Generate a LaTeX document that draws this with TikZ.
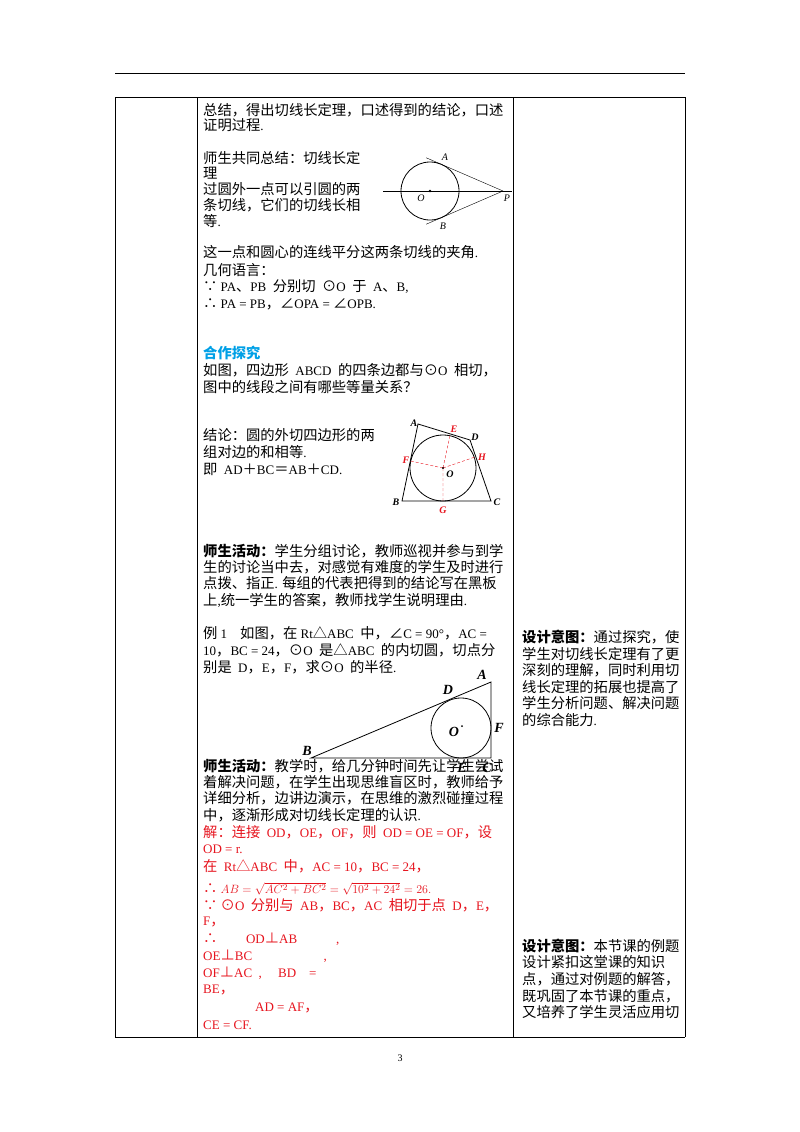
\documentclass[tikz,border=0pt]{standalone}
\usetikzlibrary{calc}
\usepackage{fontspec}
\setmainfont{Liberation Serif}
\newfontfamily\cjkf[Scale=1.1]{Noto Sans CJK SC}
\newfontfamily\latf{Liberation Serif}
\XeTeXinterchartokenstate=1
\newXeTeXintercharclass\cjkclass
\count255="4E00 \loop\XeTeXcharclass\count255=\cjkclass\advance\count255 1 \ifnum\count255<"A000 \repeat
\count255="3000 \loop\XeTeXcharclass\count255=\cjkclass\advance\count255 1 \ifnum\count255<"3040 \repeat
\count255="FF00 \loop\XeTeXcharclass\count255=\cjkclass\advance\count255 1 \ifnum\count255<"FFF0 \repeat
\count255="2200 \loop\XeTeXcharclass\count255=\cjkclass\advance\count255 1 \ifnum\count255<"2300 \repeat
\count255="25A0 \loop\XeTeXcharclass\count255=\cjkclass\advance\count255 1 \ifnum\count255<"2600 \repeat
\XeTeXinterchartoks 0 \cjkclass={\cjkf}
\XeTeXinterchartoks 4095 \cjkclass={\cjkf}
\XeTeXinterchartoks \cjkclass 0={\latf}
\XeTeXinterchartoks 4095 0={\latf}
\definecolor{myred}{RGB}{230,20,30}
\definecolor{mycyan}{RGB}{0,160,230}
\tikzset{ln/.style={anchor=west,inner sep=0pt,font=\fontsize{13}{15}\selectfont},
 rd/.style={ln,text=myred},
 lab/.style={inner sep=0pt,font=\fontsize{10}{12}\selectfont\itshape},
 qlab/.style={inner sep=0pt,font=\fontsize{10}{12}\selectfont\bfseries\itshape},
 blab/.style={inner sep=0pt,font=\fontsize{14}{16}\selectfont\bfseries\itshape}}
\begin{document}
\begin{tikzpicture}[x=1pt,y=-1pt]
\useasboundingbox (0,0) rectangle (800,1132);
% frame
\draw[line width=0.8pt] (115,73) -- (685,73);
\draw[line width=0.6pt] (115,97) -- (685,97) (115,1037) -- (685,1037)
 (115,97) -- (115,1037) (197,97) -- (197,1037) (513,97) -- (513,1037) (685,97) -- (685,1037);
\node[inner sep=0pt,font=\fontsize{10}{12}\selectfont] (pg) at (400,1058) {3};
% left column text
\node[ln] (t1) at (203,110) {总结，得出切线长定理，口述得到的结论，口述};
\node[ln] (t2) at (203,125) {证明过程.};
\node[ln] (t3) at (203,158) {师生共同总结：切线长定};
\node[ln] (t4) at (203,173) {理};
\node[ln] (t5) at (203,189) {过圆外一点可以引圆的两};
\node[ln] (t6) at (203,205) {条切线，它们的切线长相};
\node[ln] (t7) at (203,221) {等.};
\node[ln] (t8) at (203,252) {这一点和圆心的连线平分这两条切线的夹角.};
\node[ln] (t9) at (203,270) {几何语言：};
\node[ln] (t10) at (203,287) {∵ PA、PB\ \ 分别切\ \ ⊙O\ \ 于\ \ A、B,};
\node[ln] (t11) at (203,304) {∴ PA = PB，∠OPA = ∠OPB.};
\node[ln,text=mycyan,font=\fontsize{13}{15}\selectfont\bfseries] (t12) at (203,353) {合作探究};
\node[ln] (t13) at (203,370) {如图，四边形\ \ ABCD\ \ 的四条边都与⊙O\ \ 相切，};
\node[ln] (t14) at (203,387) {图中的线段之间有哪些等量关系？};
\node[ln] (t15) at (203,435) {结论：圆的外切四边形的两};
\node[ln] (t16) at (203,452) {组对边的和相等.};
\node[ln] (t17) at (203,469) {即\ \ AD＋BC＝AB＋CD.};
\node[ln] (t18) at (203,551) {\textbf{师生活动：}学生分组讨论，教师巡视并参与到学};
\node[ln] (t19) at (203,567) {生的讨论当中去，对感觉有难度的学生及时进行};
\node[ln] (t20) at (203,583) {点拨、指正. 每组的代表把得到的结论写在黑板};
\node[ln] (t21) at (203,600) {上,统一学生的答案，教师找学生说明理由.};
\node[ln] (t22) at (203,633) {例 1\quad 如图，在 Rt△ABC\ \ 中，∠C = 90°，AC =};
\node[ln] (t23) at (203,650) {10，BC = 24，⊙O\ \ 是△ABC\ \ 的内切圆，切点分};
\node[ln] (t24) at (203,667) {别是\ \ D，E，F，求⊙O\ \ 的半径.};
\node[ln] (t25) at (203,766) {\textbf{师生活动：}教学时，给几分钟时间先让学生尝试};
\node[ln] (t26) at (203,782) {着解决问题，在学生出现思维盲区时，教师给予};
\node[ln] (t27) at (203,798) {详细分析，边讲边演示，在思维的激烈碰撞过程};
\node[ln] (t28) at (203,815) {中，逐渐形成对切线长定理的认识.};
\node[rd] (r1) at (203,832) {解：连接\ \ OD，OE，OF，则\ \ OD = OE = OF，设};
\node[rd] (r2) at (203,849) {OD = r.};
\node[rd] (r3) at (203,866) {在\ \ Rt△ABC\ \ 中，AC = 10，BC = 24，};
\node[rd] (r4) at (203,889) {∴ $AB=\sqrt{AC^2+BC^2}=\sqrt{10^2+24^2}=26.$};
\node[rd] (r5) at (203,905) {∵ ⊙O\ \ 分别与\ \ AB，BC，AC\ \ 相切于点\ \ D，E，};
\node[rd] (r6) at (203,922) {F，};
\node[rd] (r7) at (203,939) {∴\qquad OD⊥AB\qquad\quad ,};
\node[rd] (r8) at (203,956) {OE⊥BC\qquad\qquad\quad\ \ ,};
\node[rd] (r9) at (203,973) {OF⊥AC\ \ ,\quad\ BD\quad =};
\node[rd] (r10) at (203,990) {BE，};
\node[rd] (r11) at (203,1008) {\qquad\qquad AD = AF，};
\node[rd] (r12) at (203,1025) {CE = CF.};
% right column
\node[ln] (s1) at (522,637) {\textbf{设计意图：}通过探究，使};
\node[ln] (s2) at (522,654) {学生对切线长定理有了更};
\node[ln] (s3) at (522,670) {深刻的理解，同时利用切};
\node[ln] (s4) at (522,687) {线长定理的拓展也提高了};
\node[ln] (s5) at (522,703) {学生分析问题、解决问题};
\node[ln] (s6) at (522,720) {的综合能力.};
\node[ln] (s7) at (522,946) {\textbf{设计意图：}本节课的例题};
\node[ln] (s8) at (522,962) {设计紧扣这堂课的知识};
\node[ln] (s9) at (522,979) {点，通过对例题的解答，};
\node[ln] (s10) at (522,996) {既巩固了本节课的重点，};
\node[ln] (s11) at (522,1012) {又培养了学生灵活应用切};
% figure 1
\coordinate (O1) at (430,191);
\coordinate (P) at (503,191);
\draw[thick] (O1) circle (29);
\draw (383,191) -- (512,191);
\draw (P) -- ($(P)!1.25!(441.5,164.4)$);
\draw (P) -- ($(P)!1.25!(441.5,217.6)$);
\fill (O1) circle (1.3);
\node[lab] (la) at (445,157) {A};
\node[lab] (lb) at (443,226) {B};
\node[lab] (lo) at (421,198) {O};
\node[lab] (lp) at (507,198) {P};
% figure 2
\coordinate (A2) at (418,424);
\coordinate (D2) at (470,440);
\coordinate (C2) at (491,501);
\coordinate (B2) at (402,501);
\coordinate (O2) at (443,468);
\draw[thick] (A2) -- (D2) -- (C2) -- (B2) -- cycle;
\draw[thick] (O2) circle (33);
\draw[myred,densely dashed] (O2) -- (450,435.5) (O2) -- (410.5,461) (O2) -- (475,457) (O2) -- (443,501);
\fill (O2) circle (1.2);
\node[qlab] (qa) at (414,423) {A};
\node[qlab] (qd) at (475,437) {D};
\node[qlab] (qc) at (497,502) {C};
\node[qlab] (qb) at (396,502) {B};
\node[qlab,text=myred] (qe) at (454,429) {E};
\node[qlab,text=myred] (qh) at (482,457) {H};
\node[qlab,text=myred] (qf) at (406,460) {F};
\node[qlab,text=myred] (qg) at (443,510) {G};
\node[qlab] (qo) at (450,474) {O};
% figure 3
\coordinate (A3) at (491,682);
\coordinate (B3) at (311,758);
\coordinate (C3) at (491,758);
\draw[thick] (A3) -- (B3) -- (C3) -- cycle;
\draw[thick] (461,728) circle (30);
\fill (462,726) circle (1);
\node[blab] (ra) at (482,675) {A};
\node[blab] (rd) at (448,690) {D};
\node[blab] (rf) at (499,728) {F};
\node[blab] (ro) at (454,732) {O};
\node[blab] (rb) at (307,751) {B};
\node[blab] (re) at (462,768) {E};
\node[blab] (rc) at (487,768) {C};
\end{tikzpicture}
\end{document}
